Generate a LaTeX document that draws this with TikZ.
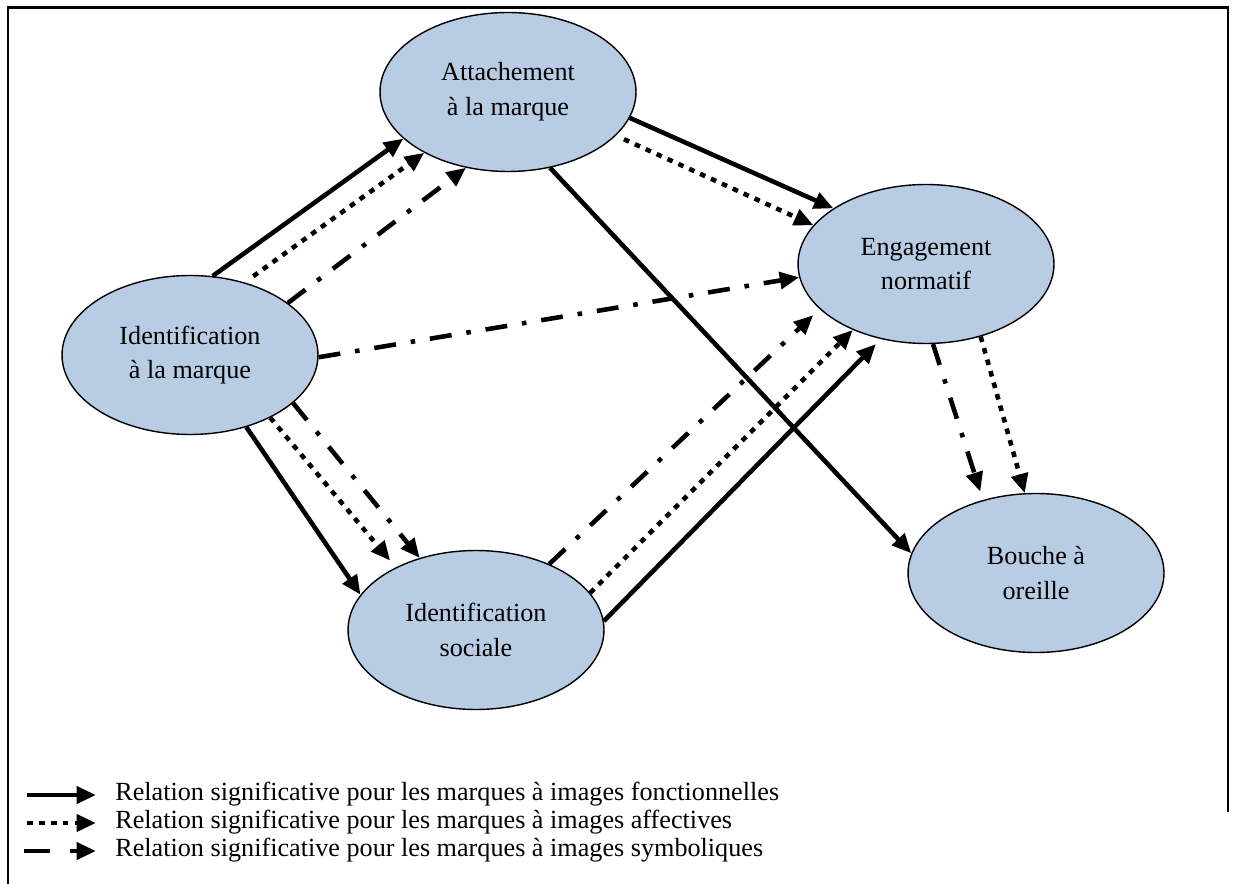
\documentclass[tikz,border=0pt]{standalone}
\usepackage{fontspec}
\setmainfont{Liberation Serif}
\usetikzlibrary{shapes.geometric,arrows.meta}
\definecolor{bleu}{HTML}{B8CCE4}

\begin{document}
\begin{tikzpicture}[x=0.02cm,y=-0.02cm,
  bulle/.style={ellipse,draw=black,line width=0.8pt,fill=bleu,align=center,
    minimum width=5.12cm,minimum height=3.18cm,
    font=\fontsize{14.9}{19.8}\selectfont},
  fleche/.style={line width=2.6pt,-{Triangle[length=11pt,width=9.5pt]}},
  fonc/.style={fleche},
  affe/.style={fleche,dash pattern=on 3.2pt off 3.6pt},
  symb/.style={fleche,dash pattern=on 12.5pt off 8.5pt on 2.6pt off 8.5pt},
  legende/.style={anchor=base west,inner sep=0pt,font=\fontsize{14.9}{17}\selectfont}]
\useasboundingbox (0,0) rectangle (1236,884);
\draw[line width=1.2pt] (8,884)--(8,7.5)--(1228,7.5)--(1228,812);
% les construits
\node[bulle] (att) at (508,92) {Attachement\\à la marque};
\node[bulle] (idm) at (190,355) {Identification\\à la marque};
\node[bulle] (eng) at (926,264) {Engagement\\normatif};
\node[bulle] (soc) at (476,630) {Identification\\sociale};
\node[bulle] (bao) at (1036,573) {Bouche à\\oreille};
% relations
\draw[fonc] (idm.74)--(att.204);
\draw[affe,shorten <=6pt] (idm.53)--(att.216);
\draw[symb] (idm.28)--(att.241);
\draw[symb] (idm.-1)--(eng.186);
\draw[fonc] (att.-12)--(eng.149);
\draw[affe,shorten <=5pt] (att.-22)--(eng.161);
\draw[fonc] (att.-61)--(bao.171);
\draw[fonc] (idm.-52)--(soc.163);
\draw[affe,shorten >=5pt] (idm.-38)--(soc.142);
\draw[symb] (idm.-25)--(soc.128);
\draw[symb,shorten >=5pt] (soc.42)--(eng.203);
\draw[affe] (soc.18)--(eng.222);
\draw[fonc,shorten >=4pt] (soc.4)--(eng.239);
\draw[symb,shorten >=5pt] (eng.-85)--(bao.126);
\draw[affe] (eng.-53)--(bao.98);
% legende
\coordinate (f1) at (27,795); \coordinate (f1b) at (96,795);
\coordinate (f2) at (27,823); \coordinate (f2b) at (96,823);
\coordinate (f3) at (24,851); \coordinate (f3b) at (96,851);
\draw[fonc] (f1)--(f1b);
\draw[affe] (f2)--(f2b);
\draw[fleche,dash pattern=on 15pt off 11pt] (f3)--(f3b);
\node[legende] (t1) at (115,800) {Relation significative pour les marques à images fonctionnelles};
\node[legende] (t2) at (115,828) {Relation significative pour les marques à images affectives};
\node[legende] (t3) at (115,856) {Relation significative pour les marques à images symboliques};
\end{tikzpicture}
\end{document}
